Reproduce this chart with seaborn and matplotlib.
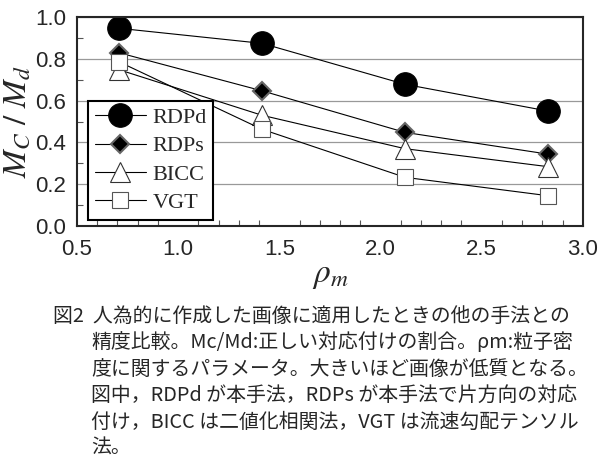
import pandas as pd
import numpy as np
import matplotlib.pyplot as plt
import matplotlib.ticker as mticker
import seaborn as sns

# data
rho_m = [0.707, 1.414, 2.121, 2.828]
rdpd = [0.946, 0.874, 0.678, 0.550]
rdps = [0.829, 0.647, 0.448, 0.344]
bicc = [0.748, 0.530, 0.370, 0.284]
vgt = [0.786, 0.463, 0.233, 0.145]
methods = ['RDPd', 'RDPs', 'BICC', 'VGT']

df = pd.DataFrame({
    'rho': rho_m * 4,
    'ratio': rdpd + rdps + bicc + vgt,
    'method': np.repeat(methods, len(rho_m)),
})

caption = [
    '図2  人為的に作成した画像に適用したときの他の手法との',
    '精度比較。Mc/Md:正しい対応付けの割合。ρm:粒子密',
    '度に関するパラメータ。大きいほど画像が低質となる。',
    '図中，RDPd が本手法，RDPs が本手法で片方向の対応',
    '付け，BICC は二値化相関法，VGT は流速勾配テンソル',
    '法。',
]

sns.set_style("ticks")
plt.rcParams['font.family'] = ['Liberation Sans', 'DejaVu Sans']
plt.rcParams['mathtext.fontset'] = 'stix'
plt.rcParams['xtick.direction'] = 'in'
plt.rcParams['ytick.direction'] = 'in'

fig = plt.figure(figsize=(6.09, 4.67), dpi=100)
ax = fig.add_axes([0.1264, 0.516, 0.8306, 0.4476])

styles = {
    'RDPd': dict(marker='o', markersize=17, markerfacecolor='black', markeredgecolor='black'),
    'RDPs': dict(marker='D', markersize=9.5, markerfacecolor='black', markeredgecolor='#666666', markeredgewidth=1.5),
    'BICC': dict(marker='^', markersize=15, markerfacecolor='white', markeredgecolor='#333333', markeredgewidth=0.8),
    'VGT': dict(marker='s', markersize=12, markerfacecolor='white', markeredgecolor='#555555', markeredgewidth=0.8),
}

for m in methods:
    sns.lineplot(data=df[df['method'] == m], x='rho', y='ratio', ax=ax,
                 color='black', linewidth=0.8, label=m, **styles[m])

ax.set_xlim(0.5, 3.0)
ax.set_ylim(0.0, 1.0)
ax.xaxis.set_major_locator(mticker.MultipleLocator(0.5))
ax.xaxis.set_minor_locator(mticker.MultipleLocator(0.1))
ax.yaxis.set_major_locator(mticker.MultipleLocator(0.2))
ax.yaxis.set_minor_locator(mticker.MultipleLocator(0.1))
ax.xaxis.set_major_formatter(mticker.FormatStrFormatter('%.1f'))
ax.yaxis.set_major_formatter(mticker.FormatStrFormatter('%.1f'))
ax.tick_params(which='both', labelsize=16, length=4, width=0.8, color='#555555')
ax.tick_params(which='major', length=0)
ax.tick_params(axis='x', which='major', pad=9)
ax.tick_params(axis='y', which='major', pad=8)
for s in ax.spines.values():
    s.set_linewidth(1.5)
ax.grid(axis='y', which='major', color='#999999', linewidth=0.9)

ax.set_xlabel(r'$\rho_m$', fontsize=24, labelpad=0)
ax.set_ylabel(r'$M_C\ /\ M_d$', fontsize=24, labelpad=2)

leg = ax.legend(loc='lower left', bbox_to_anchor=(0.022, 0.03), frameon=True, fancybox=False,
                prop={'family': 'Liberation Serif', 'size': 16}, handlelength=2.3,
                handletextpad=0.3, labelspacing=0.35, borderpad=0.3, borderaxespad=0)
leg.get_frame().set_edgecolor('black')
leg.get_frame().set_linewidth(1.5)
leg.get_frame().set_alpha(1)

cap_font = ['Noto Sans CJK JP', 'DejaVu Sans']
y0 = 1 - 316 / 467
for i, line in enumerate(caption):
    x = 53 / 609 if i == 0 else 91 / 609
    fig.text(x, y0 - i * 26.5 / 467, line, family=cap_font, fontsize=14.3,
             va='center', ha='left')

plt.savefig('out.png', dpi=100)
